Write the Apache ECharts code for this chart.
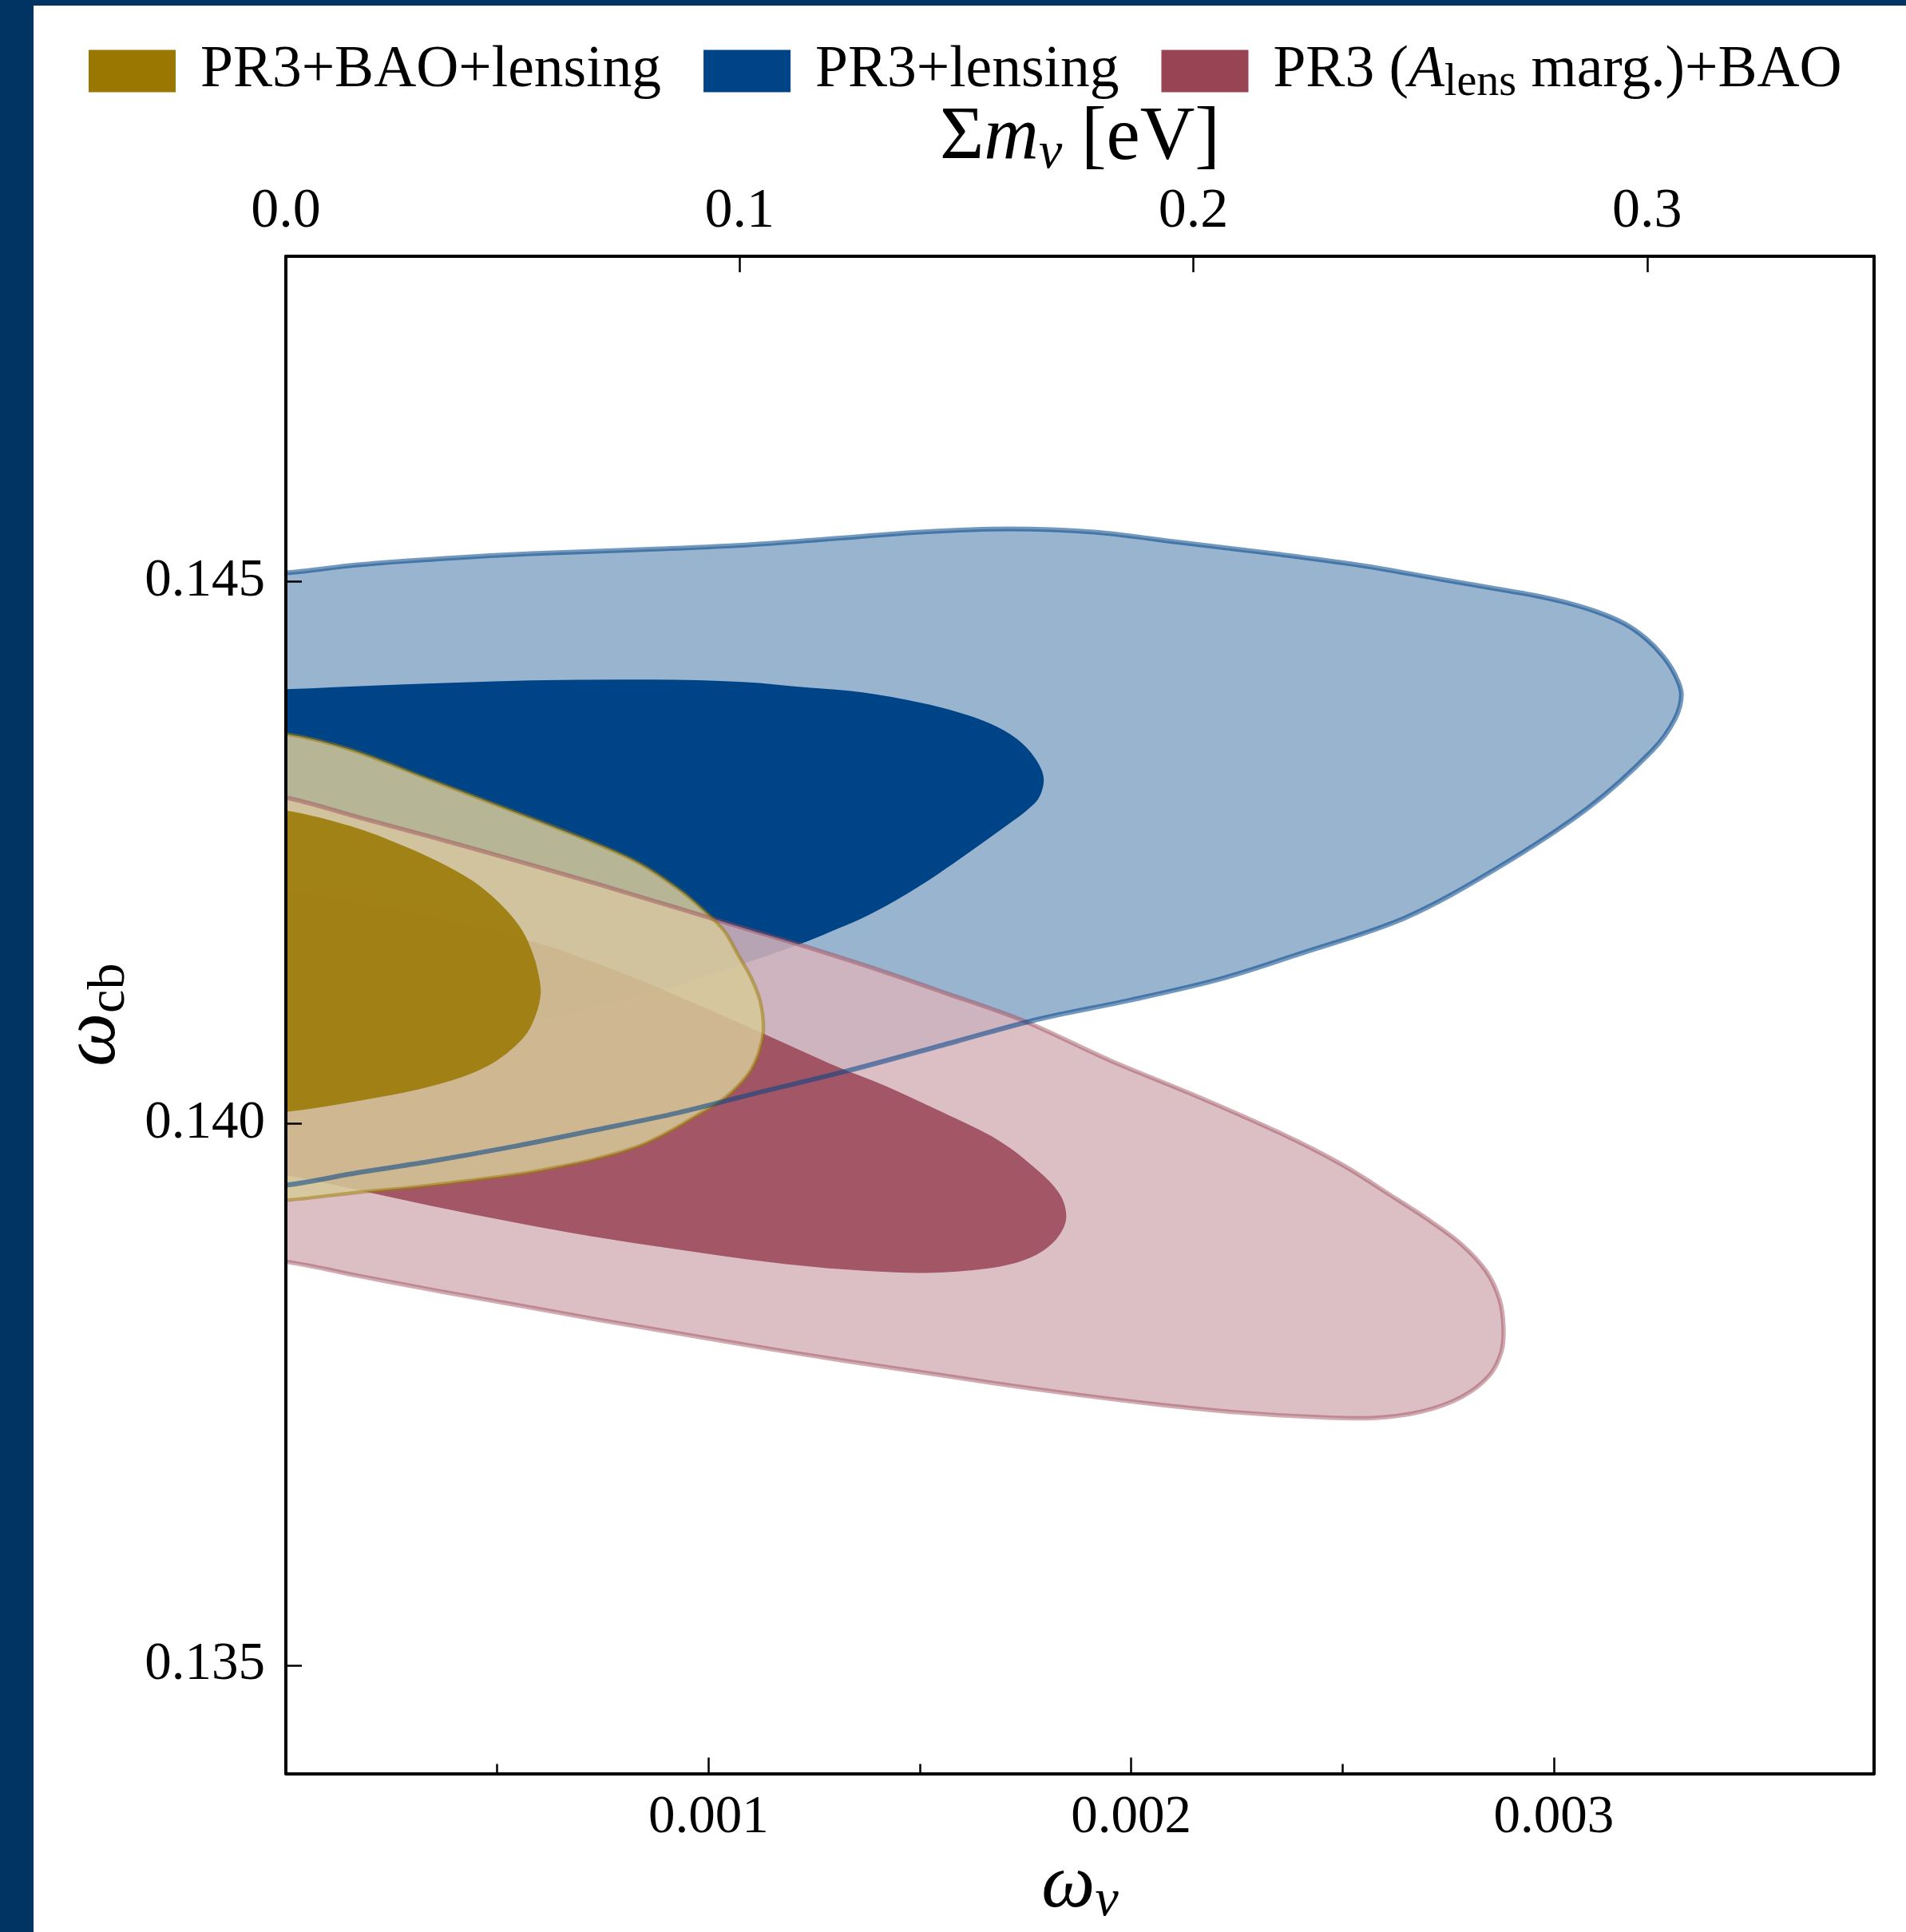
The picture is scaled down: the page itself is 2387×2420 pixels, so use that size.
<!DOCTYPE html>
<html>
<head>
<meta charset="utf-8">
<script src="https://cdn.jsdelivr.net/npm/echarts@6/dist/echarts.min.js"></script>
<style>
  html, body { margin: 0; padding: 0; background: #013462; width: 2387px; height: 2420px; overflow: hidden; }
  #c { position: absolute; left: 42px; top: 7px; width: 2345px; height: 2413px; background: #fff; }
</style>
</head>
<body>
<div id="c"></div>
<script>
// ---------------- data (omega_nu, omega_cb) ----------------
const legendNames = ['PR3+BAO+lensing', 'PR3+lensing', 'PR3 (Alens marg.)+BAO'];
const legendColors = ['#997700', '#004488', '#994455'];

const xTicks = [0.001, 0.002, 0.003];
const xMinorTicks = [0.0005, 0.0015, 0.0025];
const topTicks = [0.1, 0.2, 0.3];
const topLabels = [0.0, 0.1, 0.2, 0.3];
const yTicks = [0.135, 0.140, 0.145];
const sumMnuMax = 0.35;           // eV, top axis max
const eVperOmega = 93.14;         // sum m_nu = 93.14 eV * omega_nu
const yMin = 0.134, yMax = 0.148;

// PR3+lensing, 95% region
const blueOuter = [[0,0.145079],[0.000170,0.145153],[0.000376,0.145212],[0.000580,0.145256],[0.000888,0.145300],[0.001094,0.145337],[0.001298,0.145396],[0.001502,0.145455],[0.001708,0.145484],[0.001912,0.145455],[0.002118,0.145359],[0.002322,0.145263],[0.002535,0.145153],[0.002732,0.145021],[0.002864,0.144932],[0.002951,0.144873],[0.003027,0.144807],[0.003102,0.144719],[0.003168,0.144609],[0.003219,0.144469],[0.003259,0.144307],[0.003287,0.144138],[0.003302,0.143961],[0.003287,0.143733],[0.003233,0.143439],[0.003081,0.142909],[0.002864,0.142350],[0.002647,0.141894],[0.002398,0.141563],[0.002214,0.141335],[0.001997,0.141136],[0.001780,0.140960],[0.001591,0.140761],[0.001334,0.140489],[0.001118,0.140283],[0.000930,0.140099],[0.000722,0.139930],[0.000533,0.139782],[0.000344,0.139650],[0.000174,0.139547],[0,0.139429]];
// PR3+lensing, 68% region
const blueInner = [[0,0.144005],[0.000232,0.144042],[0.000580,0.144086],[0.000869,0.144094],[0.001081,0.144072],[0.001236,0.144020],[0.001364,0.143976],[0.001502,0.143880],[0.001591,0.143792],[0.001666,0.143689],[0.001729,0.143549],[0.001772,0.143373],[0.001793,0.143189],[0.001782,0.143005],[0.001751,0.142880],[0.001708,0.142755],[0.001653,0.142600],[0.001581,0.142402],[0.001508,0.142210],[0.001436,0.142041],[0.001364,0.141894],[0.001289,0.141769],[0.001219,0.141658],[0.001062,0.141445],[0.000930,0.141276],[0.000760,0.141092],[0.000606,0.140945],[0.000306,0.140724],[0,0.140518]];
// PR3 (Alens marg.)+BAO, 95% region
const pinkOuter = [[0,0.143005],[0.000174,0.142821],[0.000363,0.142622],[0.000552,0.142416],[0.000741,0.142203],[0.000930,0.141982],[0.001118,0.141761],[0.001219,0.141644],[0.001402,0.141416],[0.001555,0.141210],[0.001746,0.140945],[0.001952,0.140577],[0.002158,0.140246],[0.002350,0.139915],[0.002498,0.139621],[0.002615,0.139334],[0.002705,0.139106],[0.002781,0.138885],[0.002840,0.138635],[0.002872,0.138370],[0.002881,0.138113],[0.002876,0.137892],[0.002847,0.137671],[0.002781,0.137473],[0.002687,0.137340],[0.002573,0.137281],[0.002441,0.137289],[0.002252,0.137333],[0.002063,0.137406],[0.001874,0.137495],[0.001685,0.137597],[0.001496,0.137708],[0.001307,0.137818],[0.001118,0.137936],[0.000930,0.138061],[0.000741,0.138186],[0.000552,0.138319],[0.000363,0.138451],[0.000174,0.138591],[0,0.138723]];
// PR3 (Alens marg.)+BAO, 68% region
const pinkInner = [[0,0.142137],[0.000174,0.142026],[0.000382,0.141864],[0.000595,0.141666],[0.000797,0.141386],[0.000967,0.141107],[0.001130,0.140827],[0.001289,0.140548],[0.001421,0.140342],[0.001555,0.140099],[0.001687,0.139841],[0.001780,0.139562],[0.001833,0.139334],[0.001846,0.139113],[0.001819,0.138914],[0.001761,0.138760],[0.001666,0.138664],[0.001508,0.138620],[0.001328,0.138650],[0.001137,0.138723],[0.000930,0.138834],[0.000722,0.138959],[0.000544,0.139084],[0.000344,0.139238],[0.000178,0.139378],[0,0.139518]];
// PR3+BAO+lensing, 95% region
const goldOuter = [[0,0.143593],[0.000155,0.143446],[0.000344,0.143167],[0.000533,0.142887],[0.000722,0.142600],[0.000835,0.142402],[0.000930,0.142159],[0.000986,0.141975],[0.001037,0.141776],[0.001071,0.141548],[0.001100,0.141350],[0.001122,0.141129],[0.001130,0.140871],[0.001120,0.140665],[0.001100,0.140489],[0.001069,0.140342],[0.001030,0.140209],[0.000965,0.140055],[0.000903,0.139915],[0.000835,0.139790],[0.000733,0.139672],[0.000646,0.139599],[0.000565,0.139540],[0.000438,0.139474],[0.000312,0.139415],[0.000155,0.139356],[0,0.139290]];
// PR3+BAO+lensing, 68% region
const goldInner = [[0,0.142887],[0.000155,0.142740],[0.000285,0.142549],[0.000382,0.142372],[0.000457,0.142196],[0.000520,0.141975],[0.000561,0.141769],[0.000586,0.141548],[0.000599,0.141350],[0.000603,0.141202],[0.000593,0.141018],[0.000571,0.140835],[0.000533,0.140680],[0.000486,0.140548],[0.000419,0.140430],[0.000312,0.140312],[0.000174,0.140209],[0,0.140106]];

// ---------------- rendering ----------------
const FONT = 'Liberation Serif';
const chart = echarts.init(document.getElementById('c'), null, { renderer: 'canvas' });

// smooth closed path through pixel points (chord-length cardinal spline)
function splinePath(p) {
  const n = p.length;
  const d = [];
  for (let i = 0; i < n - 1; i++) d.push(Math.hypot(p[i + 1][0] - p[i][0], p[i + 1][1] - p[i][1]) || 1e-6);
  const m = [];
  for (let i = 0; i < n; i++) {
    if (i === 0) m.push([(p[1][0] - p[0][0]) / d[0], (p[1][1] - p[0][1]) / d[0]]);
    else if (i === n - 1) m.push([(p[i][0] - p[i - 1][0]) / d[i - 1], (p[i][1] - p[i - 1][1]) / d[i - 1]]);
    else {
      const s = d[i - 1] + d[i];
      m.push([(p[i + 1][0] - p[i - 1][0]) / s, (p[i + 1][1] - p[i - 1][1]) / s]);
    }
  }
  let s = 'M' + p[0][0] + ' ' + p[0][1];
  for (let i = 0; i < n - 1; i++) {
    const c1 = [p[i][0] + m[i][0] * d[i] / 3, p[i][1] + m[i][1] * d[i] / 3];
    const c2 = [p[i + 1][0] - m[i + 1][0] * d[i] / 3, p[i + 1][1] - m[i + 1][1] * d[i] / 3];
    s += 'C' + c1[0] + ' ' + c1[1] + ' ' + c2[0] + ' ' + c2[1] + ' ' + p[i + 1][0] + ' ' + p[i + 1][1];
  }
  return s + 'Z';
}

function makeRender(fill, stroke, lw) {
  return function (params, api) {
    if (params.dataIndexInside !== 0) return null;
    const pts = [];
    for (let i = 0; i < params.dataInsideLength; i++) {
      pts.push(api.coord([api.value(0, i), api.value(1, i)]));
    }
    const f = pts[0], l = pts[pts.length - 1];
    pts.unshift([f[0] - 40, f[1]]);
    pts.push([l[0] - 40, l[1]]);
    const cs = params.coordSys;
    return {
      type: 'path',
      silent: true,
      shape: { pathData: splinePath(pts) },
      style: { fill: fill || 'none', stroke: stroke || 'none', lineWidth: lw || 0 },
      clipPath: { type: 'rect', shape: { x: cs.x, y: cs.y, width: cs.width, height: cs.height } }
    };
  };
}
function contour(name, data, color, fill, stroke, lw) {
  return {
    type: 'custom', name: name, data: data, xAxisIndex: 0, yAxisIndex: 0,
    itemStyle: { color: color }, silent: true,
    renderItem: makeRender(fill, stroke, lw)
  };
}

const legendRich = {
  n: { fontFamily: FONT, fontSize: 73.5, lineHeight: 86, color: '#000' },
  i: { fontFamily: FONT, fontSize: 73.5, lineHeight: 86, fontStyle: 'italic', color: '#000' },
  s: { fontFamily: FONT, fontSize: 56, lineHeight: 48, verticalAlign: 'bottom', color: '#000' }
};
const nameRich = {
  n: { fontFamily: FONT, fontSize: 95, lineHeight: 104, color: '#000' },
  i: { fontFamily: FONT, fontSize: 95, lineHeight: 104, fontStyle: 'italic', color: '#000' },
  s: { fontFamily: FONT, fontSize: 66, lineHeight: 48, fontStyle: 'italic', verticalAlign: 'bottom', color: '#000' },
  r: { fontFamily: FONT, fontSize: 66, lineHeight: 48, verticalAlign: 'bottom', color: '#000' }
};
const axisLineStyle = { color: '#000', width: 4 };
const tickStyle = { color: '#000', width: 2.5 };
const labelStyle = { fontFamily: FONT, fontSize: 67, color: '#000' };
const xMax = sumMnuMax / eVperOmega;

const option = {
  animation: false,
  backgroundColor: '#fff',
  textStyle: { fontFamily: FONT },
  legend: {
    left: 69, top: 45, padding: 0, itemWidth: 109, itemHeight: 53, itemGap: 53,
    icon: 'rect', selectedMode: false,
    data: legendNames.map((n, k) => ({ name: n, itemStyle: { color: legendColors[k] } })),
    formatter: function (name) {
      if (name === legendNames[2]) return '{n|PR3 (}{i|A}{s|lens}{n| marg.)+BAO}';
      return '{n|' + name + '}';
    },
    textStyle: { padding: [0, 0, 0, 26], rich: legendRich }
  },
  grid: { left: 316, top: 314, right: 40, bottom: 196 },
  xAxis: [
    {
      type: 'value', position: 'bottom', min: 0, max: xMax, z: 5,
      axisLine: { show: true, onZero: false, lineStyle: axisLineStyle },
      axisTick: { show: true, inside: true, length: 20, lineStyle: tickStyle, customValues: xTicks },
      axisLabel: { show: true, margin: 22, customValues: xTicks, formatter: v => v.toFixed(3), ...labelStyle },
      splitLine: { show: false },
      name: '{i|ω}{s|ν}', nameLocation: 'middle', nameGap: 84,
      nameTextStyle: { rich: nameRich }
    },
    {
      type: 'value', position: 'top', min: 0, max: sumMnuMax, z: 5,
      axisLine: { show: true, onZero: false, lineStyle: axisLineStyle },
      axisTick: { show: true, inside: true, length: 20, lineStyle: tickStyle, customValues: topTicks },
      axisLabel: { show: true, margin: 20, customValues: topLabels, formatter: v => v.toFixed(1), ...labelStyle, fontSize: 70 },
      splitLine: { show: false },
      name: '{n|Σ}{i|m}{s|ν}{n| [eV]}', nameLocation: 'middle', nameGap: 69,
      nameTextStyle: { rich: nameRich }
    },
    {
      type: 'value', position: 'bottom', offset: 0, min: 0, max: xMax, z: 5,
      axisLine: { show: false },
      axisTick: { show: true, inside: true, length: 12, lineStyle: tickStyle, customValues: xMinorTicks },
      axisLabel: { show: false },
      splitLine: { show: false }
    }
  ],
  yAxis: [
    {
      type: 'value', position: 'left', min: yMin, max: yMax, z: 5,
      axisLine: { show: true, onZero: false, lineStyle: axisLineStyle },
      axisTick: { show: true, inside: true, length: 20, lineStyle: tickStyle, customValues: yTicks },
      axisLabel: { show: true, margin: 26, customValues: yTicks, formatter: v => v.toFixed(3), ...labelStyle },
      splitLine: { show: false },
      name: '{i|ω}{r|cb}', nameLocation: 'middle', nameGap: 182,
      nameTextStyle: { rich: nameRich }
    },
    {
      type: 'value', position: 'right', min: yMin, max: yMax, z: 5,
      axisLine: { show: true, onZero: false, lineStyle: axisLineStyle },
      axisTick: { show: false }, axisLabel: { show: false }, splitLine: { show: false }
    }
  ],
  series: [
    contour(legendNames[1], blueOuter, legendColors[1], '#99b4cf'),
    contour(legendNames[1], blueInner, legendColors[1], '#004488'),
    contour(legendNames[2], pinkOuter, legendColors[2], 'rgba(214,180,187,0.85)'),
    contour(legendNames[2], pinkInner, legendColors[2], 'rgba(153,68,85,0.85)'),
    contour(legendNames[0], goldOuter, legendColors[0], 'rgba(214,201,153,0.85)'),
    contour(legendNames[0], goldInner, legendColors[0], 'rgba(153,119,0,0.85)'),
    contour(legendNames[2], pinkOuter, legendColors[2], null, 'rgba(153,68,85,0.45)', 5.5),
    contour(legendNames[0], goldOuter, legendColors[0], null, 'rgba(153,119,0,0.5)', 4.5),
    contour(legendNames[1], blueOuter, legendColors[1], null, 'rgba(0,68,136,0.55)', 6)
  ]
};
chart.setOption(option);
</script>
</body>
</html>
